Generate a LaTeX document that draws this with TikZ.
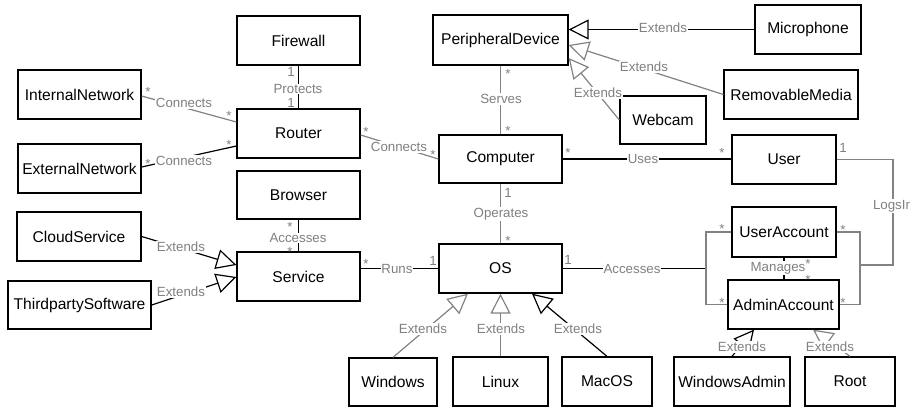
\documentclass[tikz,border=0pt]{standalone}
\usepackage{fontspec}
\setmainfont{Liberation Sans}
\usetikzlibrary{arrows.meta,calc}
\definecolor{lg}{RGB}{128,128,128}
\definecolor{lineg}{RGB}{130,130,130}
\begin{document}
\begin{tikzpicture}[x=1pt,y=-1pt,
  box/.style={draw=black, line width=1.3pt, rectangle, inner sep=0pt, fill=white,
    font=\fontsize{15.6}{18}\selectfont, minimum height=49pt},
  conn/.style={line width=1.2pt, draw=black},
  gconn/.style={line width=1.2pt, draw=lineg},
  ext/.style={-{Triangle[open,length=20pt,width=20pt]}},
  lbl/.style={fill=white, text=lg, inner sep=0.8pt, font=\fontsize{13.3}{15}\selectfont},
  mult/.style={text=lg, inner sep=0pt, font=\fontsize{13.3}{15}\selectfont},
  star/.style={mult, yshift=-3pt}
]
\useasboundingbox (0,0) rectangle (910,408);

% boxes
\node[box, minimum width=123pt] (fw) at (298.5,40.5) {Firewall};
\node[box, minimum width=123pt] (rt) at (298.5,133.5) {Router};
\node[box, minimum width=123pt, minimum height=48pt] (br) at (298.5,195) {Browser};
\node[box, minimum width=123pt] (svc) at (298.5,276.5) {Service};
\node[box, minimum width=123pt] (inet) at (79.5,94.5) {InternalNetwork};
\node[box, minimum width=123pt] (enet) at (79.5,168.5) {ExternalNetwork};
\node[box, minimum width=124pt] (cs) at (79,236.5) {CloudService};
\node[box, minimum width=143pt, minimum height=48pt] (tp) at (79.5,305) {ThirdpartySoftware};
\node[box, minimum width=135pt, minimum height=50pt] (pd) at (500.5,40) {PeripheralDevice};
\node[box, minimum width=123pt, minimum height=48pt] (comp) at (500.5,159) {Computer};
\node[box, minimum width=123pt] (os) at (500.5,268.5) {OS};
\node[box, minimum width=106pt] (mic) at (808,29.5) {Microphone};
\node[box, minimum width=134pt] (rm) at (791,94.5) {RemovableMedia};
\node[box, minimum width=86pt, minimum height=48pt] (wc) at (663,120) {Webcam};
\node[box, minimum width=104pt] (user) at (784,159.5) {User};
\node[box, minimum width=104pt, minimum height=50pt] (ua) at (784,232) {UserAccount};
\node[box, minimum width=111pt] (aa) at (783.5,304.5) {AdminAccount};
\node[box, minimum width=88pt, minimum height=48pt] (win) at (393,382) {Windows};
\node[box, minimum width=95pt] (lin) at (500.5,381.5) {Linux};
\node[box, minimum width=90pt] (mac) at (607,381.5) {MacOS};
\node[box, minimum width=116pt] (wa) at (732,381.5) {WindowsAdmin};
\node[box, minimum width=90pt] (root) at (850,381.5) {Root};

% connectors
\draw[conn] (fw.south) -- (rt.north);
\draw[gconn] ([yshift=-1.5pt]inet.east) -- ([yshift=11.5pt]rt.west);
\draw[conn] ([yshift=1.5pt]enet.east) -- ([yshift=-12.5pt]rt.west);
\draw[gconn] ([yshift=-1.5pt]rt.east) -- (comp.west);
\draw[gconn] (pd.south) -- (comp.north);
\draw[conn, ext] (mic.west) -- (mic.west -| pd.east);
\draw[gconn, ext] (rm.west) -- ([yshift=-5pt]pd.east);
\draw[gconn, ext] (wc.west) -- ([yshift=-18pt]pd.east);
\draw[conn] (comp.east) -- (comp.east -| user.west);
\coordinate (lk) at (893,265);
\coordinate (lj) at (860,265);
\draw[gconn] (user.east) -| (lk) -- (lj);
\draw[gconn] (ua.east) -| (lj) |- (aa.east);
\coordinate (aj) at (706,268.5);
\draw[conn] (os.east) -- (aj);
\draw[gconn] (ua.west) -| (aj) |- (aa.west);
\draw[conn] (ua.south) -- (ua.south |- aa.north);
\draw[gconn] (comp.south) -- (os.north);
\draw[conn] (br.south) -- (svc.north);
\draw[conn] (svc.east |- os.west) -- (os.west);
\draw[conn, ext] (cs.east) -- ([yshift=11.5pt]svc.west);
\draw[conn, ext] (tp.east) -- ([yshift=-0.5pt]svc.west);
\draw[gconn, ext] (win.north) -- ([xshift=-32.5pt]os.south);
\draw[gconn, ext] (lin.north) -- (os.south);
\draw[conn, ext] (mac.north) -- ([xshift=31.5pt]os.south);
\draw[conn, ext] (wa.north) -- ([xshift=-29.5pt]aa.south);
\draw[gconn, ext] (root.north) -- ([xshift=29.5pt]aa.south);

% association labels
\node[lbl] (l1) at (298,89) {Protects};
\node[lbl] (l2) at (184,103) {Connects};
\node[lbl] (l3) at (184,161) {Connects};
\node[lbl] (l4) at (399,147) {Connects};
\node[lbl] (l5) at (501,99) {Serves};
\node[lbl] (l6) at (663,28) {Extends};
\node[lbl] (l7) at (644,67) {Extends};
\node[lbl] (l8) at (598,93) {Extends};
\node[lbl] (l9) at (643,159) {Uses};
\node[lbl] (l10) at (893,206) {LogsIn};
\node[lbl] (l11) at (501,214) {Operates};
\node[lbl] (l12) at (298,238) {Accesses};
\node[lbl] (l13) at (397,269) {Runs};
\node[lbl] (l14) at (181,247) {Extends};
\node[lbl] (l15) at (181,292) {Extends};
\node[lbl] (l16) at (632,269) {Accesses};
\node[lbl] (l17) at (778,268) {Manages};
\node[lbl] (l18) at (423,329) {Extends};
\node[lbl] (l19) at (501,329) {Extends};
\node[lbl] (l20) at (578,329) {Extends};
\node[lbl] (l21) at (742,347) {Extends};
\node[lbl] (l22) at (830,347) {Extends};

% multiplicities
\node[mult] (m1) at (291,72) {1};
\node[mult] (m2) at (291,103) {1};
\node[star] (m3) at (148,89) {*};
\node[star] (m4) at (229,113) {*};
\node[star] (m5) at (148,161) {*};
\node[star] (m6) at (229,142) {*};
\node[star] (m7) at (366,129) {*};
\node[star] (m8) at (433,152) {*};
\node[star] (m9) at (508,71) {*};
\node[star] (m10) at (508,128) {*};
\node[star] (m11) at (568,150) {*};
\node[star] (m12) at (722,150) {*};
\node[mult] (m13) at (843,148) {1};
\node[star] (m14) at (843,227) {*};
\node[star] (m15) at (843,300) {*};
\node[mult] (m16) at (508,193) {1};
\node[star] (m17) at (508,238) {*};
\node[star] (m18) at (290,224) {*};
\node[star] (m19) at (290,249) {*};
\node[star] (m20) at (366,261) {*};
\node[mult] (m21) at (433,261) {1};
\node[mult] (m22) at (568,260) {1};
\node[star] (m23) at (722,226) {*};
\node[star] (m24) at (722,300) {*};
\node[star] (m25) at (808,261) {*};
\node[star] (m26) at (808,277) {*};
\end{tikzpicture}
\end{document}
